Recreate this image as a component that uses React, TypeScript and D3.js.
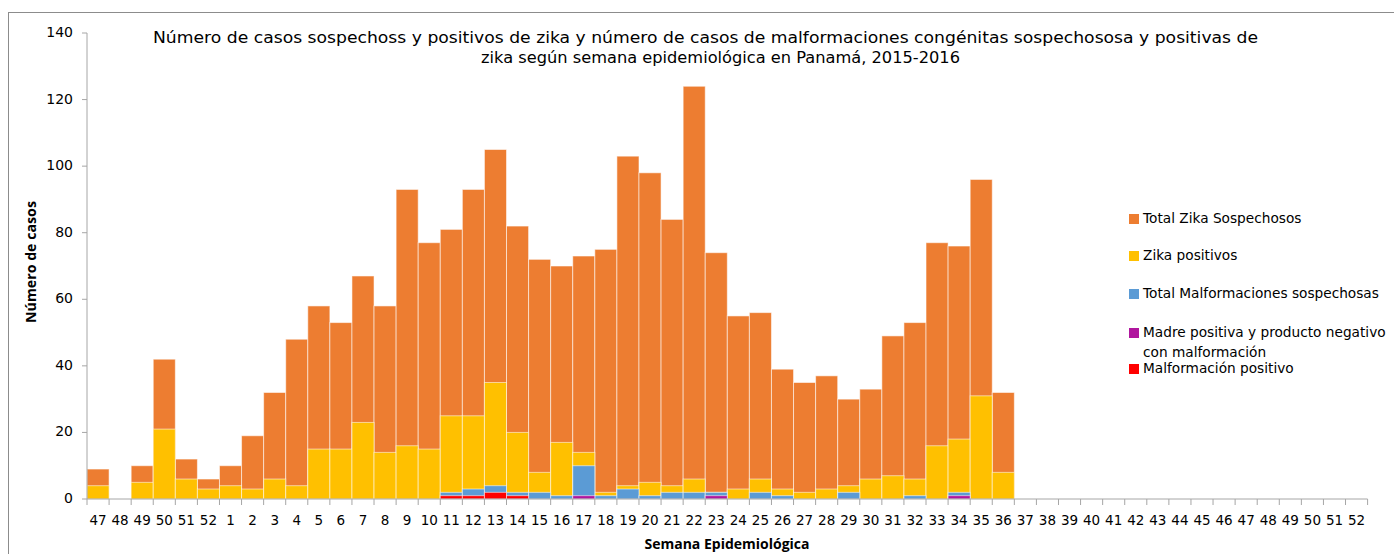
import * as d3 from 'd3';

// week labels: 2015 (47-52) then 2016 (1-52)
const weeks = [
  '47', '48', '49', '50', '51', '52',
  '1', '2', '3', '4', '5', '6', '7', '8', '9', '10', '11', '12', '13', '14', '15', '16', '17', '18',
  '19', '20', '21', '22', '23', '24', '25', '26', '27', '28', '29', '30', '31', '32', '33', '34', '35',
  '36', '37', '38', '39', '40', '41', '42', '43', '44', '45', '46', '47', '48', '49', '50', '51', '52',
];

const totalSospechosos = [
  9, 0, 10, 42, 12, 6,
  10, 19, 32, 48, 58, 53, 67, 58, 93, 77, 81, 93, 105, 82, 72, 70, 73, 75,
  103, 98, 84, 124, 74, 55, 56, 39, 35, 37, 30, 33, 49, 53, 77, 76, 96, 32,
];
const zikaPositivos = [
  4, 0, 5, 21, 6, 3,
  4, 3, 6, 4, 15, 15, 23, 14, 16, 15, 25, 25, 35, 20, 8, 17, 14, 2,
  4, 5, 4, 6, 2, 3, 6, 3, 2, 3, 4, 6, 7, 6, 16, 18, 31, 8,
];
const malfSospechosas = [
  0, 0, 0, 0, 0, 0,
  0, 0, 0, 0, 0, 0, 0, 0, 0, 0, 2, 3, 4, 2, 2, 1, 10, 1,
  3, 1, 2, 2, 2, 0, 2, 1, 0, 0, 2, 0, 0, 1, 0, 2, 0, 0,
];
const madrePositiva = [
  0, 0, 0, 0, 0, 0,
  0, 0, 0, 0, 0, 0, 0, 0, 0, 0, 0, 0, 0, 0, 0, 0, 1, 0,
  0, 0, 0, 0, 1, 0, 0, 0, 0, 0, 0, 0, 0, 0, 0, 1, 0, 0,
];
const malfPositivo = [
  0, 0, 0, 0, 0, 0,
  0, 0, 0, 0, 0, 0, 0, 0, 0, 0, 1, 1, 2, 1, 0, 0, 0, 0,
  0, 0, 0, 0, 0, 0, 0, 0, 0, 0, 0, 0, 0, 0, 0, 0, 0, 0,
];

const series = [
  { name: 'Total Zika Sospechosos', values: totalSospechosos, color: '#ED7D31' },
  { name: 'Zika positivos', values: zikaPositivos, color: '#FFC000' },
  { name: 'Total Malformaciones sospechosas', values: malfSospechosas, color: '#5B9BD5' },
  { name: 'Madre positiva y producto negativo|con malformación', values: madrePositiva, color: '#B0169E' },
  { name: 'Malformación positivo', values: malfPositivo, color: '#FF0000' },
];

const yTicks = [0, 20, 40, 60, 80, 100, 120, 140];

const W = 1394;
const H = 554;
const left = 87;
const right = 1367.6;
const top = 33;
const bottom = 499;

export default function App() {
  const x = d3.scaleBand<number>()
    .domain(d3.range(weeks.length))
    .range([left, right])
    .padding(0);
  const y = d3.scaleLinear().domain([0, 140]).range([bottom, top]);
  const bw = x.bandwidth();

  const legendY = [219, 256, 294, 333, 369];
  const axisColor = '#A6A6A6';
  const font = '"DejaVu Sans", Verdana, sans-serif';
  const boldFont = '"Open Sans", sans-serif';

  return (
    <svg width={W} height={H} style={{ position: 'absolute', left: 0, top: 0, background: '#fff' }}>
      <rect x={8.5} y={12.5} width={W} height={H} fill="#fff" stroke="#8C8C8C" strokeWidth={1} />

      {/* title */}
      <text x={153} y={38} textLength={1105} lengthAdjust="spacingAndGlyphs" dominantBaseline="middle" fontFamily={font} fontSize={16.5} fill="#000">
        Número de casos sospechoss y positivos de zika y número de casos de malformaciones congénitas sospechososa y positivas de
      </text>
      <text x={481} y={58} textLength={479} lengthAdjust="spacingAndGlyphs" dominantBaseline="middle" fontFamily={font} fontSize={16.5} fill="#000">
        zika según semana epidemiológica en Panamá, 2015-2016
      </text>

      {/* bars, drawn on top of each other */}
      {series.map(s => (
        <g key={s.name}>
          {s.values.map((v, i) => v > 0 ? (
            <rect
              key={i}
              x={x(i)}
              y={y(v)}
              width={bw}
              height={y(0) - y(v)}
              fill={s.color}
              stroke="rgba(255,255,255,0.55)"
              strokeWidth={1}
            />
          ) : null)}
        </g>
      ))}

      {/* y axis */}
      <line x1={left} x2={left} y1={top} y2={bottom} stroke={axisColor} />
      {yTicks.map(t => (
        <g key={t}>
          <line x1={left - 5} x2={left} y1={y(t)} y2={y(t)} stroke={axisColor} />
          <text x={73} y={y(t)} textAnchor="end" dominantBaseline="middle" fontFamily={font} fontSize={14} fill="#000">
            {t}
          </text>
        </g>
      ))}

      {/* x axis */}
      <line x1={left} x2={right} y1={bottom} y2={bottom} stroke={axisColor} />
      {d3.range(weeks.length + 1).map(i => (
        <line key={i} x1={left + i * bw} x2={left + i * bw} y1={bottom} y2={bottom + 6} stroke={axisColor} />
      ))}
      {weeks.map((w, i) => (
        <text key={i} x={(x(i) ?? 0) + bw / 2} y={521} textAnchor="middle" dominantBaseline="middle" fontFamily={font} fontSize={13.5} fill="#000">
          {w}
        </text>
      ))}

      {/* axis titles */}
      <text x={727} y={545} textAnchor="middle" dominantBaseline="middle" fontFamily={boldFont} fontWeight="bold" fontSize={14} fill="#000">
        Semana Epidemiológica
      </text>
      <text transform="translate(32,262) rotate(-90)" textAnchor="middle" dominantBaseline="middle" fontFamily={boldFont} fontWeight="bold" fontSize={14.2} fill="#000">
        Número de casos
      </text>

      {/* legend */}
      {series.map((s, i) => {
        const lines = s.name.split('|');
        return (
          <g key={s.name}>
            <rect x={1129} y={legendY[i] - 5} width={10} height={10} fill={s.color} />
            {lines.map((ln, j) => (
              <text key={j} x={1143} y={legendY[i] + j * 20} dominantBaseline="middle" fontFamily={font} fontSize={13.7} fill="#000">
                {ln}
              </text>
            ))}
          </g>
        );
      })}
    </svg>
  );
}
